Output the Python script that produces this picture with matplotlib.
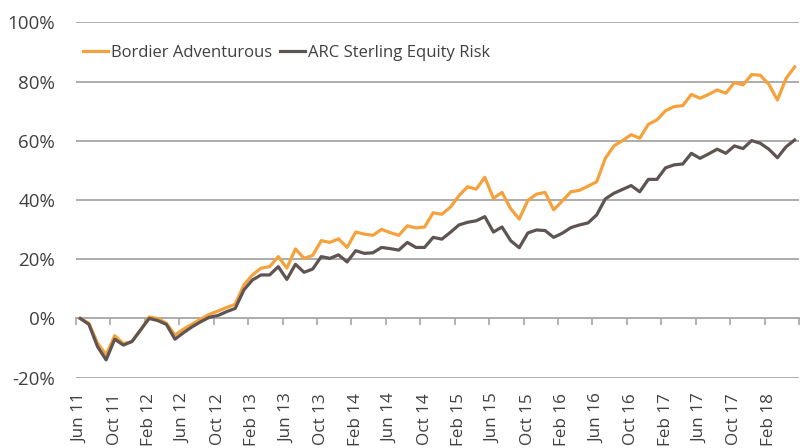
import numpy as np
import matplotlib
matplotlib.use('Agg')
import matplotlib.pyplot as plt

plt.rcParams['font.family'] = ['Open Sans', 'DejaVu Sans']

# monthly cumulative returns (%), Jun 2011 - May 2018
MONTHS = ['Jun', 'Jul', 'Aug', 'Sep', 'Oct', 'Nov', 'Dec',
          'Jan', 'Feb', 'Mar', 'Apr', 'May']
START_YEAR = 11

bordier = [0.0, -1.6, -8.3, -12.3, -5.8, -8.5, -7.8, -3.9, 0.5, 0.0,
           -1.6, -5.6, -3.6, -1.9, -0.2, 1.4, 2.5, 3.7, 4.8, 11.3,
           14.7, 17.0, 17.5, 20.9, 17.0, 23.5, 20.3, 21.3, 26.3, 25.7,
           26.9, 24.0, 29.2, 28.5, 28.1, 30.1, 29.0, 28.1, 31.3, 30.6,
           30.9, 35.7, 35.2, 37.6, 41.5, 44.5, 43.7, 47.7, 40.6, 42.6,
           37.1, 33.6, 39.9, 42.0, 42.6, 36.7, 39.7, 42.8, 43.3, 44.7,
           46.2, 54.1, 58.3, 60.1, 62.1, 60.9, 65.6, 67.1, 70.2, 71.6,
           71.9, 75.7, 74.4, 75.7, 77.2, 76.1, 79.7, 78.9, 82.4, 82.2,
           79.1, 73.8, 81.1, 85.0]

arc = [0.0, -2.0, -9.5, -14.0, -7.0, -9.0, -7.8, -3.9, 0.0, -0.7,
       -2.0, -7.0, -4.8, -2.8, -1.1, 0.4, 1.0, 2.3, 3.4, 9.6,
       13.0, 14.7, 14.7, 17.5, 13.2, 18.3, 15.6, 16.7, 20.9, 20.3,
       21.5, 19.1, 22.9, 22.0, 22.2, 24.0, 23.6, 23.1, 25.7, 24.0,
       24.0, 27.4, 26.8, 29.1, 31.6, 32.5, 33.0, 34.4, 29.2, 30.9,
       26.3, 23.9, 28.9, 29.9, 29.7, 27.4, 28.8, 30.7, 31.6, 32.3,
       35.0, 40.4, 42.3, 43.6, 44.9, 42.8, 47.0, 47.0, 50.9, 51.9,
       52.2, 55.8, 54.1, 55.6, 57.2, 55.8, 58.3, 57.4, 60.1, 59.2,
       57.2, 54.3, 58.0, 60.3]

SERIES = ['Bordier Adventurous', 'ARC Sterling Equity Risk']
COLORS = ['#F5A23C', '#5E5452']
Y_TICKS = [-20, 0, 20, 40, 60, 80, 100]
TEXT = '#404040'
GRID = '#A6A6A6'

n = len(bordier)
x = np.arange(n)
labels = [f'{MONTHS[i % 12]} {START_YEAR + (5 + i) // 12}' for i in range(n)]

fig = plt.figure(figsize=(8.05, 4.48), dpi=100)
ax = fig.add_axes([0.0944, 0.157, 0.8981, 0.7928])

for yt in Y_TICKS:
    if yt != 0:
        ax.axhline(yt, color=GRID, lw=1.3, zorder=0)

ax.plot(x, bordier, color=COLORS[0], lw=2.3, label=SERIES[0], zorder=3)
ax.plot(x, arc, color=COLORS[1], lw=2.3, label=SERIES[1], zorder=3)

ax.set_xlim(-0.5, n - 0.5)
ax.set_ylim(-20, 100)
ax.set_yticks(Y_TICKS)
ax.set_yticklabels([f'{v}%' for v in Y_TICKS])
ax.tick_params(axis='y', length=0, pad=15, labelsize=13.5, labelcolor=TEXT)

# category labels every 4 months at the bottom
lab_idx = list(range(0, n, 4))
ax.set_xticks(lab_idx)
ax.set_xticklabels([labels[i] for i in lab_idx], rotation=90)
ax.tick_params(axis='x', length=0, pad=11, labelsize=12.3, labelcolor=TEXT)

for s in ax.spines.values():
    s.set_visible(False)

# category axis crossing at 0% with tick marks between categories
sec = ax.secondary_xaxis(20 / 120)
sec.set_xticks(np.arange(-0.5, n, 4))
sec.set_xticklabels([])
sec.tick_params(axis='x', direction='out', length=5, width=1.2, color=GRID)
sec.spines['bottom'].set_color(GRID)
sec.spines['bottom'].set_linewidth(1.3)
sec.set_zorder(1)

leg = ax.legend(loc='upper left', bbox_to_anchor=(0.0, 0.955), ncol=2,
                frameon=False, fontsize=12, handlelength=1.5,
                handletextpad=0.2, columnspacing=0.45, borderaxespad=0)
for t in leg.get_texts():
    t.set_color(TEXT)

fig.savefig('out.png', dpi=100)
